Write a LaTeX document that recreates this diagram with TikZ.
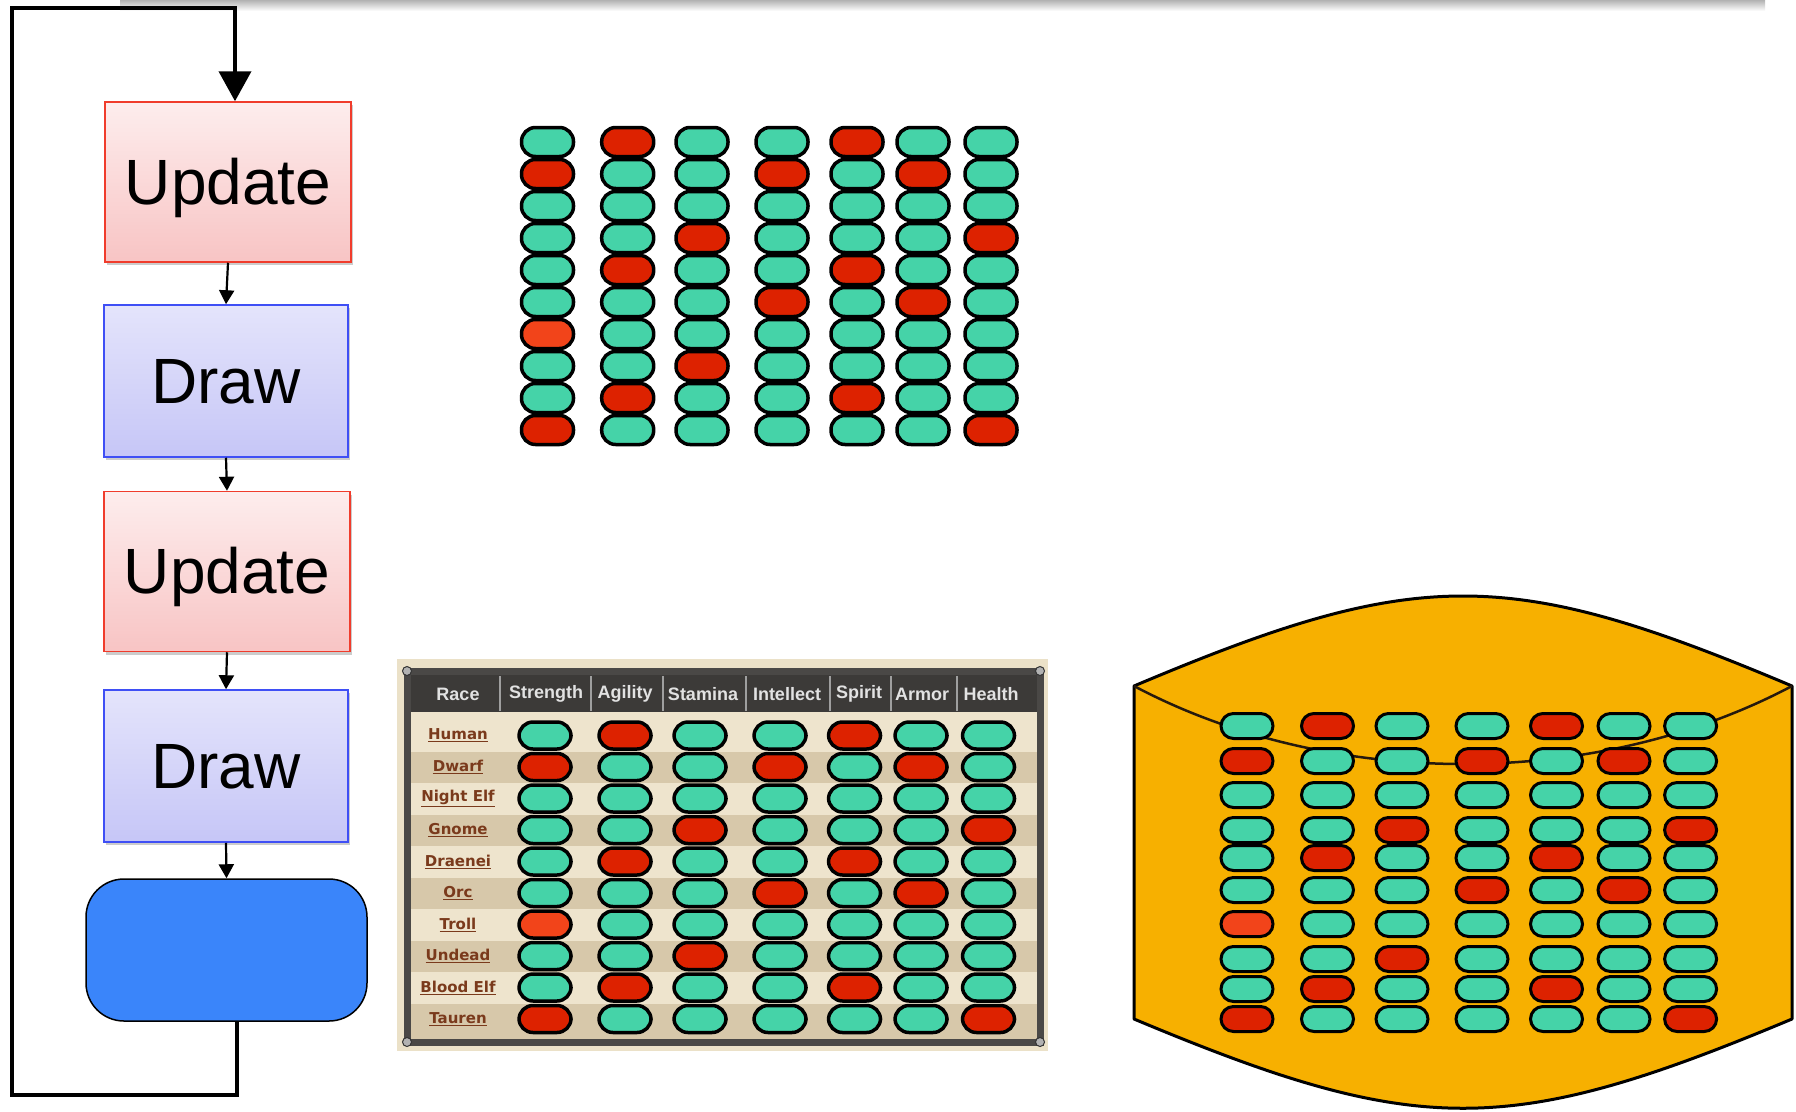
\documentclass[tikz,border=0pt]{standalone}
\usepackage{fontspec}
\setmainfont{Liberation Sans}
\newfontfamily\racefont{DejaVu Sans}
\usetikzlibrary{arrows.meta,shadows}
\definecolor{pc0}{HTML}{45D3A8}
\definecolor{pc1}{HTML}{DD2200}
\definecolor{pc2}{HTML}{F2441A}
\definecolor{updTop}{HTML}{FDEDED}
\definecolor{updBot}{HTML}{F8C4C4}
\definecolor{updLine}{HTML}{F03C2C}
\definecolor{drwTop}{HTML}{E4E4FB}
\definecolor{drwBot}{HTML}{C6C6F7}
\definecolor{drwLine}{HTML}{3F4FF5}
\definecolor{endFill}{HTML}{3A85FA}
\definecolor{cylFill}{HTML}{F7B000}
\definecolor{parch}{HTML}{EBE1C8}
\definecolor{stripeL}{HTML}{EEE4CD}
\definecolor{stripeD}{HTML}{D7C8AA}
\definecolor{frameC}{HTML}{4A4846}
\definecolor{headC}{HTML}{3C3A38}
\definecolor{raceC}{HTML}{7A3A1C}
\definecolor{headTxt}{HTML}{E2E2E2}
\def\pilldata{{0,1,0,0,1,0,0},{1,0,0,1,0,1,0},{0,0,0,0,0,0,0},{0,0,1,0,0,0,1},{0,1,0,0,1,0,0},{0,0,0,1,0,1,0},{2,0,0,0,0,0,0},{0,0,1,0,0,0,0},{0,1,0,0,1,0,0},{1,0,0,0,0,0,1}}
\begin{document}
\begin{tikzpicture}[x=1pt,y=-1pt,
 pillbase/.style={draw=black, line width=3.5pt, rectangle, inner sep=0pt, rounded corners=14pt},
 pillT/.style={pillbase, minimum width=52pt, minimum height=29pt},
 pillB/.style={pillbase, minimum width=52pt, minimum height=27pt},
 pillC/.style={pillbase, line width=3pt, minimum width=52pt, minimum height=25pt, rounded corners=12.5pt},
 flowbox/.style={rectangle, line width=1.5pt, font=\fontsize{64}{72}\selectfont, inner sep=0pt,
   text height=44pt, text depth=0pt,
   drop shadow={shadow xshift=2pt, shadow yshift=-3pt, opacity=0.2, fill=black}},
 updbox/.style={flowbox, draw=updLine, top color=updTop, bottom color=updBot, minimum width=246pt, minimum height=160pt},
 drwbox/.style={flowbox, draw=drwLine, top color=drwTop, bottom color=drwBot, minimum width=244pt, minimum height=152pt},
 endbox/.style={rectangle, rounded corners=38pt, draw=black, line width=1.5pt, fill=endFill, minimum width=281pt, minimum height=142pt},
 flowarrow/.style={line width=2.2pt, -{Triangle[length=14pt,width=15pt]}},
 looparrow/.style={line width=4pt, -{Triangle[length=30pt,width=32pt]}},
 headtext/.style={text=headTxt, font=\bfseries\fontsize{18}{20}\selectfont, inner sep=0pt},
 racetext/.style={text=raceC, font=\racefont\bfseries\fontsize{15}{18}\selectfont, inner sep=0pt},
]
\useasboundingbox (0,0) rectangle (1796,1111);
\fill[white] (0,0) rectangle (1796,1111);
% top shadow band
\shade[top color=black!30, bottom color=white] (120,0) rectangle (1765,11);

% ---------------- flowchart ----------------
\node[updbox] (u1) at (228,182) {Update};
\node[drwbox] (d1) at (226,381) {Draw};
\node[updbox] (u2) at (227,571.5) {Update};
\node[drwbox] (d2) at (226,766) {Draw};
\node[endbox] (e) at (226.5,950) {};
\draw[flowarrow] (u1.south) -- (d1.north);
\draw[flowarrow] (d1.south) -- (u2.north);
\draw[flowarrow] (u2.south) -- (d2.north);
\draw[flowarrow] (d2.south) -- (e.north);
\coordinate (lb) at (12,1095);
\coordinate (lt) at (12,8);
\draw[looparrow] ([xshift=10.5pt]e.south) |- (lb) -- (lt) -| ([xshift=7pt]u1.north);

% ---------------- top pill grid ----------------
\foreach \row [count=\r] in \pilldata {
  \foreach \v [count=\c] in \row {
    \pgfmathsetmacro\px{{547.5,627.7,702,782,857,923,991}[\c-1]}
    \pgfmathsetmacro\py{142+32*(\r-1)}
    \node[pillT, fill=pc\v] (t\r-\c) at (\px,\py) {};
  }
}

% ---------------- table ----------------
\fill[parch] (397,659) rectangle (1048,1051);
\fill[stripeL] (410,712) rectangle (1037,1040);
\foreach \r in {2,4,6,8} {
  \pgfmathsetmacro\ya{720+31.5*(\r-1)}
  \fill[stripeD] (410,\ya) rectangle (1037,\ya+31.5);
}
\fill[stripeD] (410,1003.5) rectangle (1037,1040);
\fill[headC] (410,674) rectangle (1037,712);
\foreach \sx in {500,591,663,746,830,891,957} {
  \draw[gray!75, line width=1.2pt] (\sx,676) -- (\sx,711);
}
\draw[frameC, line width=7pt] (407,671) rectangle (1040,1042);
\foreach \rx/\ry in {407/671,1040/671,407/1042,1040/1042} {
  \filldraw[fill=gray!60, draw=black!80, line width=1pt] (\rx,\ry) circle (4.5);
}
\foreach \t/\hx [count=\i] in {Race/458,Strength/546,Agility/625,Stamina/703,Intellect/787,Spirit/859,Armor/922,Health/991} {
  \node[headtext] (h\i) at (\hx,694) {\t};
}
\foreach \t [count=\i] in {Human,Dwarf,Night Elf,Gnome,Draenei,Orc,Troll,Undead,Blood Elf,Tauren} {
  \pgfmathsetmacro\py{735.5+31.5*(\i-1)}
  \node[racetext] (r\i) at (458,\py) {\underline{\t}};
}
\foreach \row [count=\r] in \pilldata {
  \foreach \v [count=\c] in \row {
    \pgfmathsetmacro\px{{545,625,700,780,854.5,921,988.5}[\c-1]}
    \pgfmathsetmacro\py{735.5+31.5*(\r-1)}
    \node[pillB, fill=pc\v] (b\r-\c) at (\px,\py) {};
  }
}

% ---------------- cylinder ----------------
\filldraw[fill=cylFill, draw=black, line width=3pt, line join=round]
  (1134,686) .. controls (1418,566) and (1508,566) .. (1792,686)
  -- (1792,1019) .. controls (1508,1138) and (1418,1138) .. (1134,1019) -- cycle;
\draw[line width=2.5pt, draw=black!80!brown] (1134,686) .. controls (1330,790) and (1596,790) .. (1792,686);
\foreach \row [count=\r] in \pilldata {
  \foreach \v [count=\c] in \row {
    \pgfmathsetmacro\px{{1247,1327.5,1402,1482,1556.5,1624,1690.6}[\c-1]}
    \pgfmathsetmacro\py{{726,761,795,830,858,890,924,959,989,1019}[\r-1]}
    \node[pillC, fill=pc\v] (c\r-\c) at (\px,\py) {};
  }
}
\end{tikzpicture}
\end{document}
